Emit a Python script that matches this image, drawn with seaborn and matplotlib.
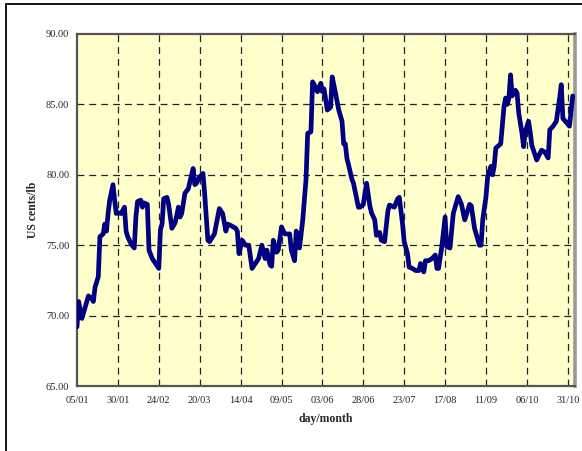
import matplotlib
matplotlib.use("Agg")
import matplotlib.pyplot as plt
from matplotlib.lines import Line2D
import seaborn as sns
import pandas as pd

# days counted from 05/01, value in US cents/lb
days = [0, 1, 3, 4, 7, 9, 10, 11, 13, 14, 16, 17, 18, 19, 20, 22, 23, 24, 25, 27,
        29, 30, 31, 33, 35, 36, 37, 39, 40, 41, 43, 44, 46, 48, 50, 51, 52, 53, 55, 56,
        58, 60, 62, 63, 64, 66, 68, 69, 71, 72, 73, 75, 77, 78, 80, 81, 84, 86, 87, 89,
        91, 92, 94, 97, 98, 99, 101, 103, 105, 107, 109, 111, 113, 115, 116, 118, 119, 120, 122, 123,
        125, 127, 130, 131, 133, 134, 136, 138, 140, 141, 143, 144, 145, 147, 149, 150, 151, 153, 155, 156,
        158, 160, 162, 163, 164, 165, 166, 168, 169, 172, 173, 175, 177, 179, 180, 182, 183, 185, 186, 188,
        190, 191, 194, 196, 197, 199, 200, 202, 203, 205, 207, 209, 210, 212, 213, 215, 217, 219, 220, 221,
        223, 225, 226, 228, 230, 233, 235, 237, 240, 241, 243, 246, 247, 248, 250, 251, 253, 254, 255, 256,
        258, 259, 261, 262, 263, 264, 265, 266, 268, 269, 270, 272, 273, 274, 276, 277, 278, 281, 282, 284,
        286, 288, 289, 291, 293, 295, 296, 297, 300, 301, 303]
prices = [69.2, 71.0, 69.8, 70.2, 71.4, 71.2, 71.0, 72.0, 72.75, 75.6, 75.8, 76.5, 76.0, 77.25, 78.2, 79.3, 78.2, 77.25, 77.3, 77.25,
          77.7, 76.0, 75.6, 75.1, 74.8, 77.0, 78.1, 78.2, 77.7, 78.0, 77.9, 74.65, 74.05, 73.7, 73.35, 76.1, 76.5, 78.3, 78.4, 77.9,
          76.2, 76.6, 77.7, 77.0, 77.25, 78.7, 79.0, 79.5, 80.45, 79.3, 79.4, 79.85, 80.1, 78.7, 75.35, 75.25, 75.8, 77.0, 77.6, 77.25,
          76.0, 76.5, 76.4, 76.2, 76.0, 74.4, 75.35, 75.0, 75.0, 73.35, 73.7, 74.05, 75.0, 74.05, 74.65, 73.6, 73.5, 75.35, 74.5, 74.65,
          76.3, 75.8, 75.8, 74.65, 73.9, 76.0, 74.8, 76.8, 79.7, 82.95, 83.05, 86.6, 86.4, 85.9, 86.5, 85.9, 86.1, 84.6, 84.8, 86.95,
          85.8, 84.6, 83.8, 82.2, 82.2, 81.15, 80.7, 79.7, 79.4, 77.7, 77.7, 77.9, 79.4, 77.8, 77.3, 76.8, 75.7, 75.9, 75.35, 75.25,
          77.4, 77.85, 77.7, 78.3, 78.4, 76.5, 75.25, 74.4, 73.45, 73.35, 73.2, 73.2, 73.7, 73.1, 73.9, 73.9, 74.05, 74.3, 73.35, 73.35,
          74.9, 77.0, 74.9, 74.8, 77.25, 78.45, 77.9, 76.8, 77.9, 77.8, 76.2, 75.0, 75.0, 76.8, 78.45, 79.85, 80.6, 80.0, 80.6, 81.9,
          82.1, 82.2, 84.85, 85.45, 85.0, 85.45, 87.1, 85.6, 86.0, 85.8, 84.4, 82.95, 82.0, 83.05, 83.8, 83.05, 82.1, 81.05, 81.3, 81.75,
          81.6, 81.2, 83.2, 83.45, 83.8, 85.45, 86.4, 84.0, 83.6, 83.45, 85.6]

tick_days = [0, 25, 50, 75, 100, 125, 150, 175, 200, 225, 250, 275, 300]
tick_labels = ["05/01", "30/01", "24/02", "20/03", "14/04", "09/05", "03/06",
               "28/06", "23/07", "17/08", "11/09", "06/10", "31/10"]
y_ticks = [65, 70, 75, 80, 85, 90]

df = pd.DataFrame({"day": days, "price": prices})

sns.set_style("white")
plt.rcParams["font.family"] = ["Liberation Serif", "DejaVu Serif"]

fig = plt.figure(figsize=(5.82, 4.51), dpi=100)
ax = fig.add_axes([77 / 582, 1 - 386 / 451, 498 / 582, 352 / 451])
ax.set_facecolor("#FFFFCC")

# grid first so the line sits on top
for d in tick_days[1:]:
    ax.axvline(d, color="#222222", lw=0.9, ls=(0, (5.5, 4)), zorder=1)
for v in y_ticks[1:-1]:
    ax.axhline(v, color="#222222", lw=0.9, ls=(0, (5.5, 4)), zorder=1)

sns.lineplot(data=df, x="day", y="price", color="#000080", lw=3.4, ax=ax, zorder=3)
for ln in ax.lines:
    ln.set_solid_joinstyle("round")
    ln.set_solid_capstyle("round")

ax.set_xlim(0, 304.4)
ax.set_ylim(65, 90)
ax.set_xticks(tick_days)
ax.set_xticklabels(tick_labels, fontsize=7.5)
ax.set_yticks(y_ticks)
ax.set_yticklabels([f"{v:.2f}" for v in y_ticks], fontsize=7.5)
ax.tick_params(axis="y", length=0, pad=5.5)
ax.tick_params(axis="x", length=0, pad=7)
ax.set_xlabel("day/month", fontsize=8.5, fontweight="bold", labelpad=6)
ax.set_ylabel("US cents/lb", fontsize=8.5, fontweight="bold", labelpad=5)

for side in ["left", "top", "bottom"]:
    ax.spines[side].set_color("#555555")
    ax.spines[side].set_linewidth(1.6)
ax.spines["right"].set_color("#999999")
ax.spines["right"].set_linewidth(2.6)

# outer chart frame (cropped at right and bottom)
fig.add_artist(Line2D([6 / 582, 6 / 582], [0, 1 - 4 / 451], color="black", lw=1.3))
fig.add_artist(Line2D([6 / 582, 1], [1 - 4 / 451, 1 - 4 / 451], color="black", lw=1.3))

fig.savefig("out.png", dpi=100)
